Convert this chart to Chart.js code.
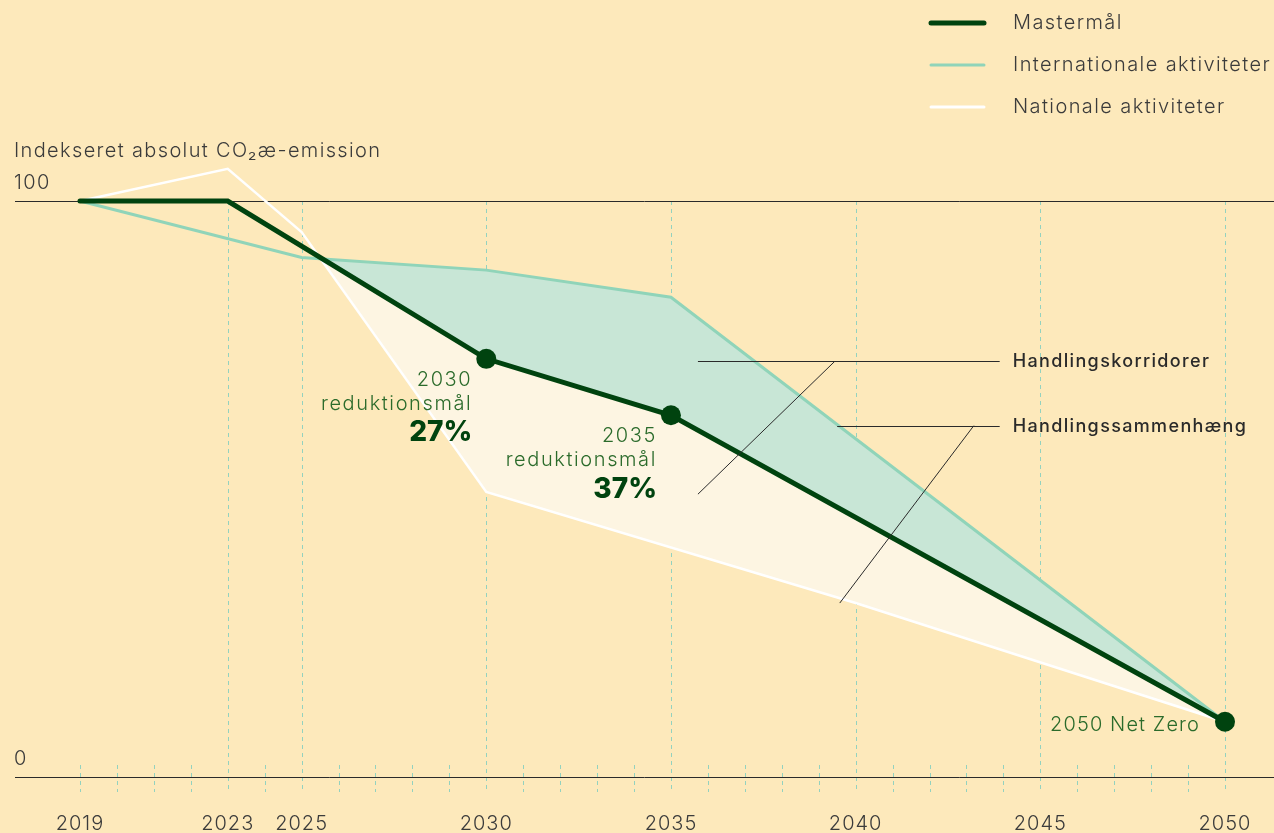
<!DOCTYPE html>
<html>
<head>
<meta charset="utf-8">
<script src="https://cdn.jsdelivr.net/npm/chart.js@4"></script>
<style>
  html, body { margin: 0; padding: 0; background: #fde9bb; }
  #wrap { width: 1274px; height: 833px; position: relative; }
</style>
</head>
<body>
<div id="wrap"><canvas id="chart"></canvas></div>
<script>
// data
const masterYears = [2019, 2023, 2030, 2035, 2050];
const masterValues = [100, 100, 72.6, 62.8, 9.6];
const intlYears = [2019, 2025, 2030, 2035, 2050];
const intlValues = [100, 90.2, 88, 83.3, 9.6];
const natYears = [2019, 2023, 2025, 2030, 2040, 2050];
const natValues = [100, 105.6, 94.6, 49.5, 30.2, 9.6];

const labeledYears = [2019, 2023, 2025, 2030, 2035, 2040, 2045, 2050];
const gridYears = [2023, 2025, 2030, 2035, 2040, 2045, 2050];
const yTickLabels = [100, 0];

const seriesNames = ["Mastermål", "Internationale aktiviteter", "Nationale aktiviteter"];
const yTitle = "Indekseret absolut CO₂æ-emission";

// milestone captions [year, value, line1, line2, big]
const milestones = [
  [2030, 72.6, "2030", "reduktionsmål", "27%"],
  [2035, 62.8, "2035", "reduktionsmål", "37%"]
];

// leader lines in data space: label, horizontal [x0, x1, y], diagonal [xa, ya, xb, yb]
const callouts = [
  { text: "Handlingskorridorer", h: [2035.73, 2043.9, 72.2], d: [2039.44, 72.2, 2035.73, 49.1] },
  { text: "Handlingssammenhæng", h: [2039.5, 2043.9, 61], d: [2043.2, 61, 2039.57, 30.2] }
];

const BG = "#fde9bb";
const DARK = "#00430f";
const TEAL = "#90d4b9";
const TEAL_FILL = "#c8e6d6";
const CREAM_FILL = "#fdf5e2";
const TEXT = "#3b3b3b";
const GREEN_TEXT = "#2b6b2b";
const FONT = "Inter, 'Noto Sans', sans-serif";

const toPts = (xs, ys) => xs.map((x, i) => ({ x, y: ys[i] }));

function setFont(ctx, f, spacing) {
  ctx.font = f;
  ctx.letterSpacing = spacing + "px";
}

const decor = {
  id: "decor",
  beforeDraw(chart) {
    const { ctx, scales: { x, y } } = chart;
    ctx.save();
    ctx.fillStyle = BG;
    ctx.fillRect(0, 0, chart.width, chart.height);

    const y0 = y.getPixelForValue(0);
    const y100 = y.getPixelForValue(100);

    // minor ticks at every year, full dashed lines at the labelled ones
    ctx.strokeStyle = "#93d2bf";
    ctx.lineWidth = 1;
    ctx.setLineDash([4, 4]);
    for (let yr = labeledYears[0]; yr <= labeledYears[labeledYears.length - 1]; yr++) {
      const px = Math.round(x.getPixelForValue(yr)) + 0.5;
      ctx.beginPath();
      const top = gridYears.includes(yr) ? y100 : y0 - 12;
      ctx.moveTo(px, top);
      ctx.lineTo(px, y0 + 15);
      ctx.stroke();
    }
    ctx.setLineDash([]);

    // horizontal reference lines
    ctx.strokeStyle = "#2a2a2a";
    ctx.lineWidth = 1;
    yTickLabels.forEach(v => {
      const py = Math.round(y.getPixelForValue(v)) + 0.5;
      ctx.beginPath();
      ctx.moveTo(15, py);
      ctx.lineTo(chart.width, py);
      ctx.stroke();
    });

    // y tick labels and title
    ctx.fillStyle = TEXT;
    setFont(ctx, "300 20px " + FONT, 1.35);
    ctx.textAlign = "left";
    ctx.textBaseline = "middle";
    yTickLabels.forEach(v => ctx.fillText(String(v), 14, y.getPixelForValue(v) - 18));
    ctx.fillText(yTitle, 14, y100 - 50);

    // x labels
    ctx.textAlign = "center";
    setFont(ctx, "300 20px " + FONT, 1);
    labeledYears.forEach(yr => ctx.fillText(String(yr), x.getPixelForValue(yr), y0 + 47));
    ctx.restore();
  },
  afterDatasetsDraw(chart) {
    const { ctx, scales: { x, y } } = chart;
    ctx.save();
    ctx.textBaseline = "middle";

    // callouts
    ctx.strokeStyle = "#2a2a2a";
    ctx.lineWidth = 1;
    callouts.forEach(c => {
      const hy = Math.round(y.getPixelForValue(c.h[2])) + 0.5;
      ctx.beginPath();
      ctx.moveTo(x.getPixelForValue(c.h[0]), hy);
      ctx.lineTo(x.getPixelForValue(c.h[1]), hy);
      ctx.moveTo(x.getPixelForValue(c.d[0]), y.getPixelForValue(c.d[1]));
      ctx.lineTo(x.getPixelForValue(c.d[2]), y.getPixelForValue(c.d[3]));
      ctx.stroke();
      ctx.fillStyle = "#2a2a2a";
      setFont(ctx, "500 18px " + FONT, 1.35);
      ctx.textAlign = "left";
      ctx.fillText(c.text, x.getPixelForValue(c.h[1]) + 13, hy);
    });

    ctx.textAlign = "right";
    milestones.forEach(m => {
      const px = x.getPixelForValue(m[0]) - 14;
      const py = y.getPixelForValue(m[1]);
      ctx.fillStyle = GREEN_TEXT;
      setFont(ctx, "300 20px " + FONT, 1.6);
      ctx.fillText(m[2], px, py + 21);
      ctx.fillText(m[3], px, py + 45);
      ctx.fillStyle = DARK;
      setFont(ctx, "800 28px " + FONT, 0);
      ctx.fillText(m[4], px, py + 74);
    });
    const last = masterYears.length - 1;
    ctx.fillStyle = GREEN_TEXT;
    setFont(ctx, "300 20px " + FONT, 1.1);
    ctx.fillText("2050 Net Zero", x.getPixelForValue(masterYears[last]) - 25, y.getPixelForValue(masterValues[last]) + 3);

    // legend
    const styles = [[DARK, 5], [TEAL, 3], ["#ffffff", 3]];
    ctx.textAlign = "left";
    ctx.lineCap = "round";
    seriesNames.forEach((name, i) => {
      const ly = 23 + i * 42;
      ctx.strokeStyle = styles[i][0];
      ctx.lineWidth = styles[i][1];
      ctx.beginPath();
      ctx.moveTo(931, ly);
      ctx.lineTo(984, ly);
      ctx.stroke();
      ctx.fillStyle = TEXT;
      setFont(ctx, "300 20px " + FONT, 1.4);
      ctx.fillText(name, 1013, ly);
    });
    ctx.restore();
  }
};

new Chart(document.getElementById("chart"), {
  type: "line",
  data: {
    datasets: [
      {
        label: seriesNames[0],
        data: toPts(masterYears, masterValues),
        borderColor: DARK,
        borderWidth: 5,
        borderCapStyle: "round",
        pointRadius: masterYears.map(yr => (yr >= 2030 ? 10 : 0)),
        pointBackgroundColor: DARK,
        pointBorderWidth: 0,
        fill: false,
        clip: false
      },
      {
        label: seriesNames[1],
        data: toPts(intlYears, intlValues),
        borderColor: TEAL,
        borderWidth: 3,
        pointRadius: 0,
        fill: { target: 0, above: TEAL_FILL, below: "transparent" },
        clip: false
      },
      {
        label: seriesNames[2],
        data: toPts(natYears, natValues),
        borderColor: "#ffffff",
        borderWidth: 2.5,
        pointRadius: 0,
        fill: { target: 0, above: "transparent", below: CREAM_FILL },
        clip: false
      }
    ]
  },
  options: {
    responsive: true,
    maintainAspectRatio: false,
    animation: false,
    layout: { padding: { left: 80, right: 49, top: 201, bottom: 56 } },
    scales: {
      x: { type: "linear", min: 2019, max: 2050, display: false },
      y: { min: 0, max: 100, display: false }
    },
    plugins: {
      legend: { display: false },
      tooltip: { enabled: false }
    }
  },
  plugins: [decor]
});
</script>
</body>
</html>
